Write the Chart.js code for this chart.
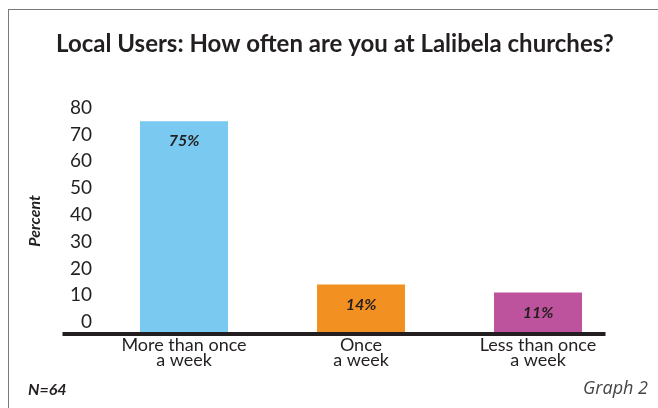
<!DOCTYPE html>
<html>
<head>
<meta charset="utf-8">
<script src="https://cdn.jsdelivr.net/npm/chart.js@4"></script>
<style>
  html, body { margin: 0; padding: 0; background: #fff; overflow: hidden; }
  #frame {
    position: absolute; left: 8px; top: 9px; width: 700px; height: 450px;
    border-top: 1.5px solid #7a7a7a; border-left: 1.5px solid #7a7a7a;
  }
  #wrap { position: absolute; left: 0; top: 0; width: 658px; height: 408px; }
</style>
</head>
<body>
<div id="frame"></div>
<div id="wrap"><canvas id="chart"></canvas></div>
<script>
// Dados
const categories = [['More than once', 'a week'], ['Once', 'a week'], ['Less than once', 'a week']];
const percentValues = [75, 14, 11];
const barColors = ['#79c9f0', '#f39022', '#bd539d'];
const yTicks = [0, 10, 20, 30, 40, 50, 60, 70, 80];
const sampleNote = 'N=64';
const graphNote = 'Graph 2';

const TEXT = '#231f20';
const AXIS_FLOOR = -4.5; // a linha base fica um pouco abaixo do zero

const valueLabels = {
    id: 'valueLabels',
    afterDatasetsDraw(chart) {
        const ctx = chart.ctx;
        const meta = chart.getDatasetMeta(0);
        ctx.save();
        ctx.font = 'italic bold 16px Lato';
        ctx.fillStyle = TEXT;
        ctx.textAlign = 'center';
        ctx.textBaseline = 'middle';
        meta.data.forEach((bar, i) => {
            ctx.fillText(percentValues[i] + '%', bar.x, bar.y + 20);
        });
        ctx.restore();
    }
};

// linha base grossa, passa por baixo dos rótulos do eixo y
const baseLine = {
    id: 'baseLine',
    afterDatasetsDraw(chart) {
        const ctx = chart.ctx;
        const area = chart.chartArea;
        const y = chart.scales.y.getPixelForValue(AXIS_FLOOR);
        ctx.save();
        ctx.strokeStyle = TEXT;
        ctx.lineWidth = 4;
        ctx.beginPath();
        ctx.moveTo(area.left - 33, y);
        ctx.lineTo(area.right - 21, y);
        ctx.stroke();
        ctx.restore();
    }
};

const footNotes = {
    id: 'footNotes',
    afterDraw(chart) {
        const ctx = chart.ctx;
        ctx.save();
        ctx.textBaseline = 'middle';
        ctx.fillStyle = TEXT;
        ctx.font = 'italic bold 16px Lato';
        ctx.textAlign = 'left';
        ctx.fillText(sampleNote, 28, 390);
        ctx.fillStyle = '#444';
        ctx.font = 'italic 18px "Open Sans"';
        ctx.textAlign = 'right';
        ctx.fillText(graphNote, 648, 389);
        ctx.restore();
    }
};

new Chart(document.getElementById('chart'), {
    type: 'bar',
    data: {
        labels: categories,
        datasets: [{
            data: percentValues,
            backgroundColor: barColors,
            base: AXIS_FLOOR,
            barPercentage: 1,
            categoryPercentage: 0.497,
            borderWidth: 0
        }]
    },
    options: {
        responsive: true,
        maintainAspectRatio: false,
        animation: false,
        layout: {
            padding: { left: 35, right: 23, top: 0, bottom: 24 }
        },
        plugins: {
            legend: { display: false },
            tooltip: { enabled: false },
            title: {
                display: true,
                text: 'Local Users: How often are you at Lalibela churches?',
                color: TEXT,
                font: { family: 'Lato', size: 24, weight: 'bold' },
                padding: { top: 30, bottom: 49 }
            }
        },
        scales: {
            x: {
                grid: { display: false, drawTicks: false },
                border: { display: false },
                ticks: {
                    color: TEXT,
                    padding: 4,
                    maxRotation: 0,
                    font: { family: 'Lato', size: 18, lineHeight: 0.83 }
                },
                afterFit: (scale) => { scale.height = 50; }
            },
            y: {
                min: AXIS_FLOOR,
                max: 80,
                grid: { display: false, drawTicks: false },
                border: { display: false },
                ticks: {
                    stepSize: 10,
                    includeBounds: false,
                    color: TEXT,
                    padding: 3.5,
                    font: { family: 'Lato', size: 19 }
                },
                afterBuildTicks: (scale) => {
                    scale.ticks = yTicks.map(v => ({ value: v }));
                },
                afterFit: (scale) => { scale.width = 60.5; },
                title: {
                    display: true,
                    text: 'Percent',
                    color: TEXT,
                    padding: { top: -9.6, bottom: 0 },
                    font: { family: 'Lato', size: 16, weight: 'bold', style: 'italic' }
                }
            },
            // eixo vazio à direita, só para reservar espaço
            spacer: {
                position: 'right',
                grid: { display: false, drawTicks: false },
                border: { display: false },
                ticks: { display: false },
                afterFit: (scale) => { scale.width = 8.5; }
            }
        }
    },
    plugins: [valueLabels, baseLine, footNotes]
});
</script>
</body>
</html>
